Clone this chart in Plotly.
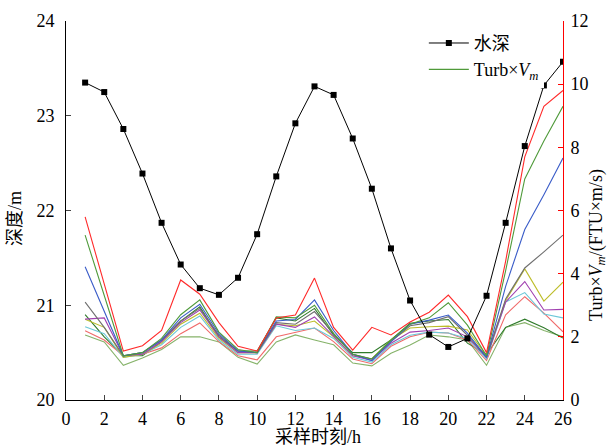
import plotly.graph_objects as go

hours = list(range(1, 27))

depth = [23.35, 23.25, 22.86, 22.39, 21.87, 21.43, 21.18, 21.11, 21.29, 21.75, 22.36, 22.92, 23.31,
         23.22, 22.76, 22.23, 21.60, 21.05, 20.69, 20.56, 20.65, 21.10, 21.87, 22.68, 23.32, 23.57]

turb_red = [5.8, 3.7, 1.55, 1.72, 2.2, 3.8, 3.35, 2.45, 1.7, 1.55, 2.6, 2.69, 3.86,
            2.3, 1.58, 2.3, 2.06, 2.47, 2.78, 3.32, 2.64, 1.5, 4.4, 7.7, 9.3, 9.8]
turb_green = [5.22, 3.3, 1.4, 1.5, 1.95, 2.7, 3.17, 2.15, 1.6, 1.5, 2.63, 2.6, 3.0,
              2.1, 1.45, 1.3, 1.9, 2.4, 2.6, 3.08, 2.37, 1.4, 4.1, 7.0, 8.2, 9.3]
turb_blue = [4.22, 2.8, 1.4, 1.5, 1.9, 2.6, 3.03, 2.1, 1.55, 1.5, 2.5, 2.55, 3.17,
             2.2, 1.45, 1.25, 1.85, 2.4, 2.53, 2.69, 2.12, 1.35, 3.6, 5.4, 6.5, 7.66]
turb_gray = [3.1, 2.3, 1.4, 1.5, 1.9, 2.5, 2.9, 2.05, 1.55, 1.5, 2.45, 2.4, 2.8,
             2.1, 1.45, 1.3, 1.85, 2.35, 2.45, 2.64, 2.05, 1.35, 3.2, 4.18, 4.69, 5.22]
turb_purple = [2.56, 2.6, 1.4, 1.45, 1.85, 2.45, 2.85, 2.0, 1.5, 1.5, 2.4, 2.3, 2.63,
               2.0, 1.4, 1.25, 1.8, 2.15, 2.2, 2.28, 2.0, 1.35, 3.1, 3.75, 2.85, 2.87]
turb_yellow = [2.56, 2.3, 1.35, 1.45, 1.8, 2.4, 2.75, 1.95, 1.5, 1.5, 2.4, 2.35, 2.5,
               2.0, 1.4, 1.3, 1.9, 2.28, 2.32, 2.34, 2.22, 1.4, 3.15, 4.15, 3.13, 3.73]
turb_cyan = [2.32, 2.1, 1.35, 1.45, 1.75, 2.3, 2.66, 1.9, 1.45, 1.45, 2.35, 2.2, 2.28,
             1.95, 1.35, 1.2, 1.75, 2.05, 2.15, 2.12, 1.95, 1.3, 3.1, 3.4, 2.72, 2.6]
turb_salmon = [2.19, 1.9, 1.4, 1.45, 1.65, 2.1, 2.44, 1.85, 1.4, 1.27, 2.0, 2.15, 2.28,
               1.85, 1.3, 1.15, 1.7, 2.0, 2.15, 2.12, 1.9, 1.25, 2.7, 3.27, 2.75, 2.16]
turb_darkgreen = [2.7, 2.0, 1.4, 1.4, 1.85, 2.5, 2.95, 2.0, 1.55, 1.55, 2.6, 2.5, 2.9,
                  2.05, 1.5, 1.5, 1.9, 2.43, 2.5, 2.55, 1.8, 1.45, 2.3, 2.56, 2.29, 1.96]
turb_lightgreen = [2.06, 1.84, 1.1, 1.33, 1.6, 2.0, 2.0, 1.84, 1.35, 1.14, 1.84, 2.06, 1.9,
                   1.75, 1.17, 1.08, 1.48, 1.74, 2.06, 2.0, 1.9, 1.1, 2.3, 2.45, 2.2, 2.0]

x_ticks = list(range(0, 27, 2))
depth_ticks = [20, 21, 22, 23, 24]
turb_ticks = [0, 2, 4, 6, 8, 10, 12]

series = [
    ("lightgreen", turb_lightgreen, "#86b36a"),
    ("darkgreen", turb_darkgreen, "#2f7a2a"),
    ("salmon", turb_salmon, "#f06a6a"),
    ("cyan", turb_cyan, "#6cc8d8"),
    ("yellow", turb_yellow, "#bdbd2a"),
    ("purple", turb_purple, "#a040b0"),
    ("gray", turb_gray, "#6f6f6f"),
    ("blue", turb_blue, "#3a5cc8"),
    ("green", turb_green, "#4f9a3a"),
    ("red", turb_red, "#ff2a2a"),
]

serif = "Liberation Serif, Times New Roman, Noto Sans CJK SC, serif"

fig = go.Figure()
for name, vals, col in series:
    fig.add_trace(go.Scatter(x=hours, y=vals, mode="lines", yaxis="y",
                             line=dict(color=col, width=1.1), showlegend=False))

fig.add_trace(go.Scatter(x=hours, y=depth, mode="lines+markers", yaxis="y2", name="水深",
                         line=dict(color="black", width=1),
                         marker=dict(symbol="square", size=6, color="black")))
fig.add_trace(go.Scatter(x=[None], y=[None], mode="lines", yaxis="y",
                         name="Turb×<i>V</i><sub><i>m</i></sub>",
                         line=dict(color="#4f9a3a", width=1.1)))

fig.update_layout(
    width=610, height=447,
    margin=dict(l=66, r=47, t=21, b=47, autoexpand=False),
    paper_bgcolor="white", plot_bgcolor="white",
    font=dict(family=serif, size=18, color="black"),
    xaxis=dict(range=[0, 26], tickvals=x_ticks, ticks="inside", ticklen=5, automargin=False,
               showline=True, linecolor="black", linewidth=1, showgrid=False, zeroline=False,
               ticklabelstandoff=2),
    yaxis=dict(range=[0, 12], tickvals=turb_ticks, side="right", ticks="inside", ticklen=5,
               tickcolor="red", showline=True, linecolor="red", linewidth=1, automargin=False,
               showgrid=False, zeroline=False, ticklabelstandoff=3),
    yaxis2=dict(range=[20, 24], tickvals=depth_ticks, side="left", overlaying="y", anchor="x",
                ticks="inside", ticklen=5, showline=True, linecolor="black", linewidth=1,
                showgrid=False, zeroline=False, automargin=False, ticklabelstandoff=7),
    legend=dict(x=0.72, y=0.99, xanchor="left", yanchor="top", bgcolor="white",
                font=dict(size=18), tracegroupgap=0, itemwidth=40,
                traceorder="normal"),
    annotations=[
        dict(text="采样时刻/h", xref="paper", yref="paper", x=0.507, y=-0.098,
             xanchor="center", yanchor="middle", showarrow=False, font=dict(size=18)),
        dict(text="深度/m", xref="paper", yref="paper", x=-0.103, y=0.48,
             xanchor="center", yanchor="middle", showarrow=False, textangle=-90,
             font=dict(size=18)),
        dict(text="Turb×<i>V</i><sub><i>m</i></sub>/(FTU×m/s)", xref="paper", yref="paper",
             x=1.069, y=0.41, xanchor="center", yanchor="middle", showarrow=False,
             textangle=-90, font=dict(size=18)),
    ],
)

fig.write_html("out.html", config={"displayModeBar": False},
               post_script="document.body.style.margin='0';document.body.style.padding='0';")
